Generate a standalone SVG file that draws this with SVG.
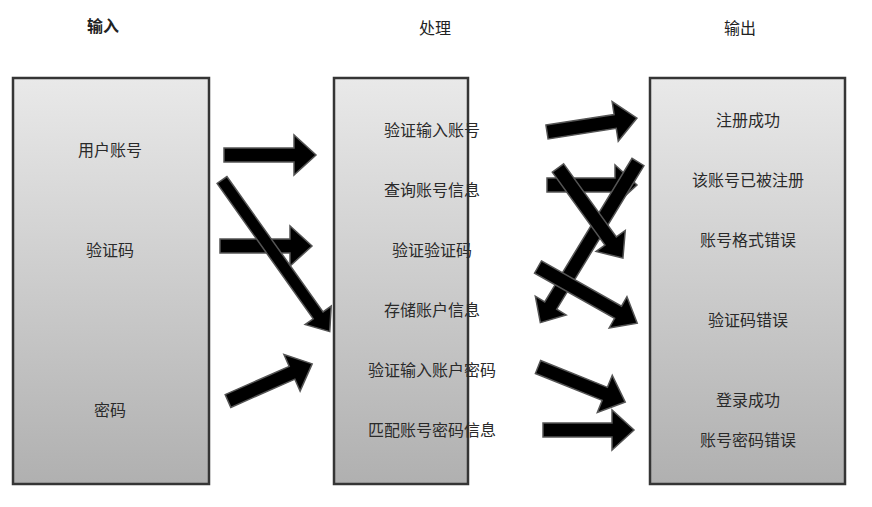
<svg xmlns="http://www.w3.org/2000/svg" width="872" height="507" viewBox="0 0 872 507">
<defs>
<linearGradient id="g" x1="0" y1="0" x2="0" y2="1">
<stop offset="0" stop-color="#e9e9e9"/>
<stop offset="1" stop-color="#b0b0b0"/>
</linearGradient>
<style>
.box{fill:url(#g);stroke:#353535;stroke-width:2.5}
.t{font-family:"Noto Sans CJK SC","Noto Sans",sans-serif;font-size:16px;fill:#2a2a2a;text-anchor:middle;dominant-baseline:central}
.h{font-family:"Noto Sans CJK SC","Noto Sans",sans-serif;font-size:16px;fill:#222;text-anchor:middle;dominant-baseline:central}
.a{fill:#000;stroke:#555;stroke-width:1.5;stroke-linejoin:miter}
</style>
</defs>
<rect width="872" height="507" fill="#fff"/>
<text class="h" x="103" y="25" font-weight="bold" fill="#000">输入</text>
<text class="h" x="435" y="27">处理</text>
<text class="h" x="740" y="27">输出</text>

<g id="input">
<rect class="box" x="13" y="78" width="196" height="406"/>
<text class="t" x="110" y="149">用户账号</text>
<text class="t" x="110" y="249">验证码</text>
<text class="t" x="110" y="409">密码</text>
</g>
<g id="process">
<rect class="box" x="334" y="78" width="134" height="406"/>
<text class="t" x="432" y="129">验证输入账号</text>
<text class="t" x="432" y="189">查询账号信息</text>
<text class="t" x="432" y="249">验证验证码</text>
<text class="t" x="432" y="309">存储账户信息</text>
<text class="t" x="432" y="369">验证输入账户密码</text>
<text class="t" x="432" y="429">匹配账号密码信息</text>
</g>
<g id="output">
<rect class="box" x="650" y="78" width="195" height="406"/>
<text class="t" x="748" y="119">注册成功</text>
<text class="t" x="748" y="179">该账号已被注册</text>
<text class="t" x="748" y="239">账号格式错误</text>
<text class="t" x="748" y="319">验证码错误</text>
<text class="t" x="748" y="399">登录成功</text>
<text class="t" x="748" y="439">账号密码错误</text>
</g>

<g id="connectors">
<path class="a" transform="translate(224,155)" d="M0,-7H70V-20L92,0L70,20V7H0Z"/>
<path class="a" transform="translate(220,246)" d="M0,-7H70V-20L92,0L70,20V7H0Z"/>
<path class="a" transform="translate(222,180) rotate(54.6)" d="M0,-6H166V-16L186,0L166,16V6H0Z"/>
<path class="a" transform="translate(228,401) rotate(-23.8)" d="M0,-7H70V-20L92,0L70,20V7H0Z"/>
<path class="a" transform="translate(547,132) rotate(-8.8)" d="M0,-7H69V-20L91,0L69,20V7H0Z"/>
<path class="a" transform="translate(547,185)" d="M0,-7H68V-20L90,0L68,20V7H0Z"/>
<path class="a" transform="translate(638,162) rotate(121.3)" d="M0,-7H168V-18L188,0L168,18V7H0Z"/>
<path class="a" transform="translate(558,168) rotate(54.2)" d="M0,-7H90V-18L111,0L90,18V7H0Z"/>
<path class="a" transform="translate(538,267) rotate(29.5)" d="M0,-7H92V-18L114,0L92,18V7H0Z"/>
<path class="a" transform="translate(538,367) rotate(21.9)" d="M0,-7H72V-20L94,0L72,20V7H0Z"/>
<path class="a" transform="translate(543,430)" d="M0,-7H69V-20L91,0L69,20V7H0Z"/>
</g>
</svg>
